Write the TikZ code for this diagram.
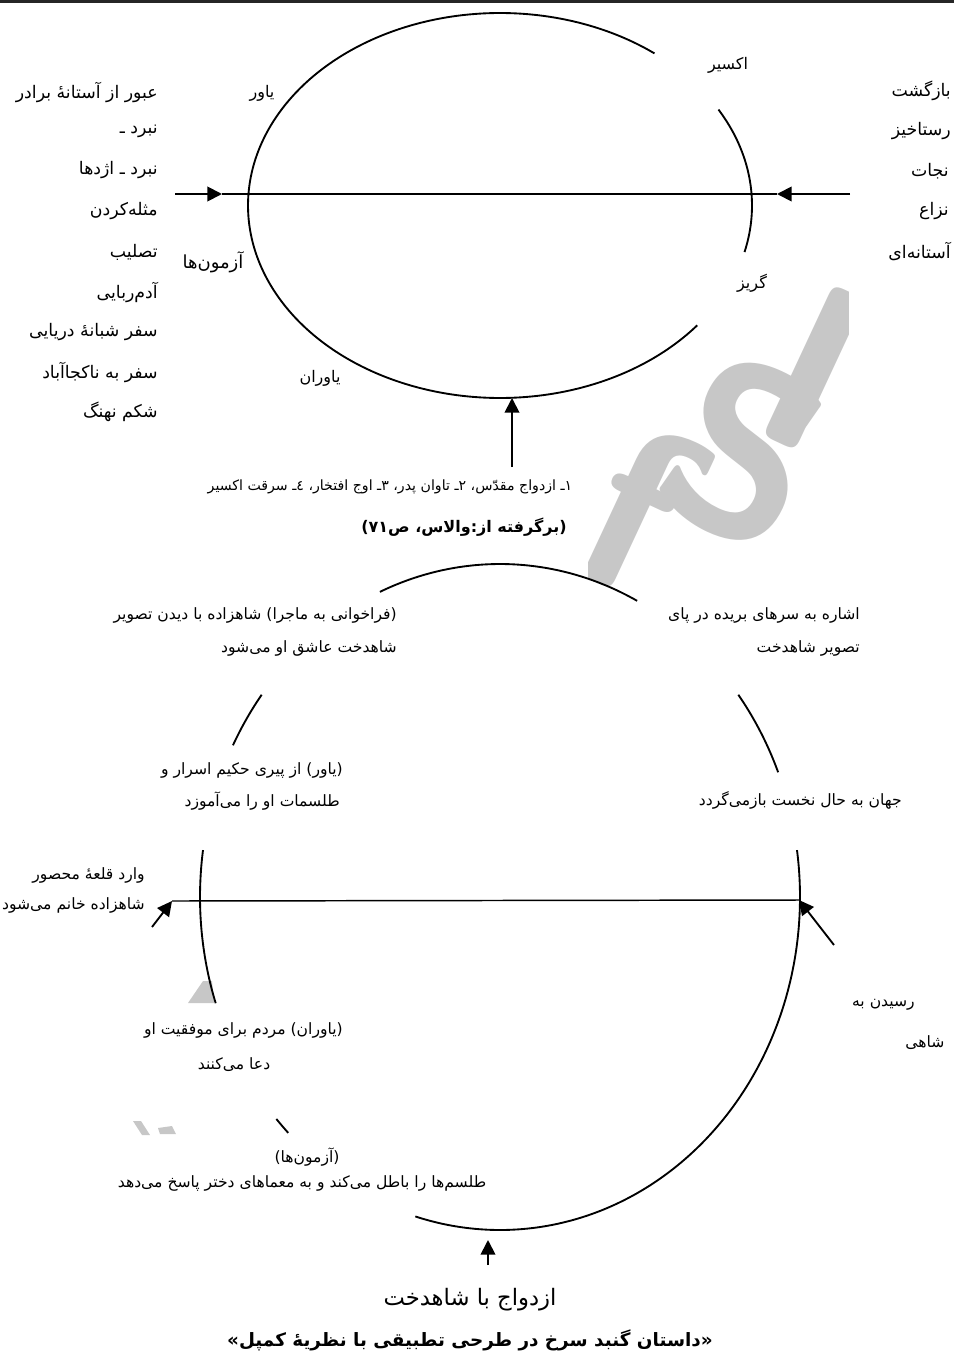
\documentclass[tikz,border=0pt]{standalone}
\usepackage{fontspec}
\usetikzlibrary{arrows.meta}
\TeXXeTstate=1
\newfontfamily\fa[Script=Arabic]{DejaVu Sans}
\newcommand\rl[1]{\beginR #1\endR}
\tikzset{
  colt/.style={inner sep=0pt, anchor=east, font=\fa\fontsize{13}{15}\selectfont},
  toplbl/.style={inner sep=0pt, font=\fa\fontsize{12}{14}\selectfont},
  lbl/.style={inner sep=0pt, font=\fa\fontsize{11.7}{14}\selectfont},
  lbr/.style={lbl, anchor=east},
  captxt/.style={inner sep=0pt, font=\fa\fontsize{10.6}{13}\selectfont},
  big/.style={inner sep=0pt, font=\fa\fontsize{17}{20}\selectfont},
  bld/.style={inner sep=0pt, font=\fa\bfseries\fontsize{12}{14}\selectfont},
  bldbig/.style={inner sep=0pt, font=\fa\bfseries\fontsize{13.8}{16}\selectfont},
  curve/.style={line width=1.4pt},
  thinline/.style={line width=1.1pt},
  arr/.style={line width=1.4pt, -{Triangle[length=11pt,width=11pt]}},
  wm/.style={inner sep=0pt, text=black!22, font=\sffamily\bfseries\fontsize{180}{180}\selectfont, rotate=-25},
  wmbit/.style={fill=black!22, draw=none},
}
\begin{document}
\begin{tikzpicture}[x=0.75pt,y=-0.75pt]
\useasboundingbox (0,0) rectangle (954,1366);

% watermark (partly hidden)
\begin{scope}
\clip (588,265) rectangle (848,592);
\node[wm] (wmf) at (636,508) {f};
\node[wm] (wms) at (745,452) {S};
\node[wm] (wmi) at (815,368) {I};
\end{scope}
\fill[wmbit] (188,1003) -- (203,981) -- (212,981) -- (214,1003) -- cycle;
\fill[wmbit] (133,1121) -- (141,1121) -- (150,1135) -- (142,1135) -- cycle;
\fill[wmbit] (158,1128) -- (172,1126) -- (176,1134) -- (160,1134) -- cycle;

\draw[line width=2.25pt, black!85] (0,1.5) -- (954,1.5);

% ---------- top diagram ----------
\draw[curve] plot[domain=52.2:321.5, samples=150, smooth] ({500+252*cos(\x)},{205.5-192.5*sin(\x)});
\draw[curve] plot[domain=-14:29.9, samples=40, smooth] ({500+252*cos(\x)},{205.5-192.5*sin(\x)});

\coordinate (tl) at (175,194);
\coordinate (tla) at (222,194);
\coordinate (tr) at (850,194);
\coordinate (tra) at (777,194);
\draw[thinline] (tla) -- (tra);
\draw[arr] (tl) -- (tla);
\draw[arr] (tr) -- (tra);
\coordinate (vb) at (512,467);
\coordinate (vt) at (512,398);
\draw[arr] (vb) -- (vt);

\node[colt] (c1) at (158,92) {\rl{عبور از آستانهٔ برادر}};
\node[colt] (c2) at (158,131) {\rl{نبرد ـ}};
\node[colt] (c3) at (158,170) {\rl{نبرد ـ اژدها}};
\node[colt] (c4) at (158,211) {\rl{مثله‌کردن}};
\node[colt] (c5) at (158,252) {\rl{تصلیب}};
\node[colt] (c6) at (158,292) {\rl{آدم‌ربایی}};
\node[colt] (c7) at (158,332) {\rl{سفر شبانهٔ دریایی}};
\node[colt] (c8) at (158,372) {\rl{سفر به ناکجاآباد}};
\node[colt] (c9) at (158,412) {\rl{شکم نهنگ}};

\node[colt] (d1) at (951,91) {\rl{بازگشت}};
\node[colt] (d2) at (951,131) {\rl{رستاخیز}};
\node[colt] (d3) at (949,171) {\rl{نجات}};
\node[colt] (d4) at (949,211) {\rl{نزاع}};
\node[colt] (d5) at (951,251) {\rl{آستانه‌ای}};

\node[toplbl] (yavar) at (262,93) {\rl{یاور}};
\node[toplbl] (eksir) at (728,65) {\rl{اکسیر}};
\node[toplbl, font=\fa\fontsize{13.5}{16}\selectfont] (azmun) at (213,262) {\rl{آزمون‌ها}};
\node[toplbl] (goriz) at (752,283) {\rl{گریز}};
\node[toplbl] (yavaran) at (320,378) {\rl{یاوران}};

\node[captxt] (capt) at (390,487) {\rl{۱ـ ازدواج مقدّس، ۲ـ تاوان پدر، ۳ـ اوج افتخار، ٤ـ سرقت اکسیر}};
\node[bld] (src) at (464,527) {\rl{(برگرفته از:والاس، ص\beginL۷۱\endL)}};

% ---------- bottom diagram ----------
\draw[curve] plot[domain=62.8:113.6, samples=40, smooth] ({500+300*cos(\x)},{897-333*sin(\x)});
\draw[curve] plot[domain=142.6:152.9, samples=10, smooth] ({500+300*cos(\x)},{897-333*sin(\x)});
\draw[curve] plot[domain=22:37.4, samples=12, smooth] ({500+300*cos(\x)},{897-333*sin(\x)});
\draw[curve] plot[domain=171.9:198.6, samples=20, smooth] ({500+300*cos(\x)},{897-333*sin(\x)});
\draw[curve] plot[domain=-106.4:8.1, samples=80, smooth] ({500+300*cos(\x)},{897-333*sin(\x)});
\draw[curve] plot[domain=221.8:225.1, samples=5, smooth] ({500+300*cos(\x)},{897-333*sin(\x)});

\coordinate (hl) at (172,901);
\coordinate (hr) at (799,900);
\coordinate (dl) at (152,927);
\coordinate (dr) at (834,945);
\draw[thinline] (hl) -- (hr);
\draw[arr] (dl) -- (hl);
\draw[arr] (dr) -- (hr);
\coordinate (bb) at (488,1265);
\coordinate (bt) at (488,1240);
\draw[arr] (bb) -- (bt);

\node[lbr] (b1) at (397,615) {\rl{(فراخوانی به ماجرا) شاهزاده با دیدن تصویر}};
\node[lbr] (b2) at (397,648) {\rl{شاهدخت عاشق او می‌شود}};
\node[lbr] (b3) at (860,615) {\rl{اشاره به سرهای بریده در پای}};
\node[lbr] (b4) at (860,648) {\rl{تصویر شاهدخت}};
\node[lbr] (b5) at (343,770) {\rl{(یاور) از پیری حکیم اسرار و}};
\node[lbr] (b6) at (340,801) {\rl{طلسمات او را می‌آموزد}};
\node[lbr] (b7) at (902,800) {\rl{جهان به حال نخست بازمی‌گردد}};
\node[lbr] (b8) at (145,875) {\rl{وارد قلعهٔ محصور}};
\node[lbr] (b9) at (145,905) {\rl{شاهزاده خانم می‌شود}};
\node[lbr] (b10) at (915,1005) {\rl{رسیدن به}};
\node[lbl] (b11) at (925,1043) {\rl{شاهی}};
\node[lbr] (b12) at (343,1030) {\rl{(یاوران) مردم برای موفقیت او}};
\node[lbl] (b13) at (234,1065) {\rl{دعا می‌کنند}};
\node[lbl] (b14) at (307,1157) {\rl{(آزمون‌ها)}};
\node[lbl] (b15) at (302,1183) {\rl{طلسم‌ها را باطل می‌کند و به معماهای دختر پاسخ می‌دهد}};
\node[big] (b16) at (470,1300) {\rl{ازدواج با شاهدخت}};
\node[bldbig] (b17) at (470,1340) {\rl{«داستان گنبد سرخ در طرحی تطبیقی با نظریهٔ کمپل»}};
\end{tikzpicture}
\end{document}
